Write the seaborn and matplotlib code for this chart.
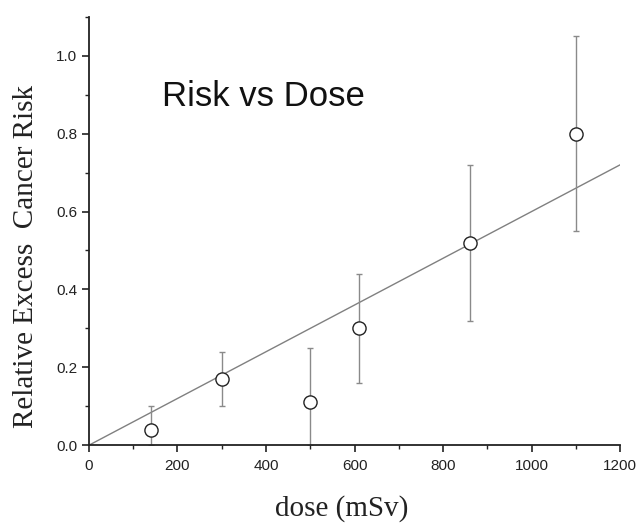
import numpy as np
import pandas as pd
import matplotlib
matplotlib.use("Agg")
import matplotlib.pyplot as plt
import seaborn as sns
from matplotlib.ticker import MultipleLocator

# datos
dose = [140, 300, 500, 610, 860, 1100]
risk = [0.04, 0.17, 0.11, 0.30, 0.52, 0.80]
err_low = [0.04, 0.07, 0.11, 0.14, 0.20, 0.25]
err_high = [0.06, 0.07, 0.14, 0.14, 0.20, 0.25]

# recta de ajuste
fit_dose = [0, 1200]
fit_risk = [0.0, 0.72]

sns.set_style("ticks")

fig = plt.figure(figsize=(6.4, 5.25), dpi=100)
ax = fig.add_axes([0.139, 0.152, 0.830, 0.816])

df = pd.DataFrame({"dose": dose, "risk": risk})
fit_df = pd.DataFrame({"dose": fit_dose, "risk": fit_risk})

sns.lineplot(data=fit_df, x="dose", y="risk", ax=ax, color="#808080", lw=1.0)
ax.errorbar(dose, risk, yerr=[err_low, err_high], fmt="none",
            ecolor="#8a8a8a", elinewidth=1.0, capsize=2.5, capthick=1.0, zorder=2)
sns.scatterplot(data=df, x="dose", y="risk", ax=ax, marker="o", s=90,
                facecolor="white", edgecolor="#222222", linewidth=1.0, zorder=3)

ax.set_xlim(0, 1200)
ax.set_ylim(0, 1.1)
ax.xaxis.set_major_locator(MultipleLocator(200))
ax.xaxis.set_minor_locator(MultipleLocator(100))
ax.yaxis.set_major_locator(MultipleLocator(0.2))
ax.yaxis.set_minor_locator(MultipleLocator(0.1))
ax.yaxis.set_major_formatter(matplotlib.ticker.FormatStrFormatter("%.1f"))

for s in ["top", "right"]:
    ax.spines[s].set_visible(False)
for s in ["left", "bottom"]:
    ax.spines[s].set_linewidth(1.3)
    ax.spines[s].set_color("#222222")

ax.tick_params(which="major", direction="out", length=5, width=1.2,
               labelsize=11, colors="#222222", labelfontfamily="Liberation Sans")
ax.tick_params(axis="x", which="major", pad=5)
ax.tick_params(which="minor", direction="out", length=3, width=1.0, colors="#222222")

ax.set_xlabel("dose (mSv)", fontsize=21, family="Liberation Serif", color="#222222")
ax.set_ylabel("Relative Excess  Cancer Risk", fontsize=21, family="Liberation Serif",
              color="#222222")
ax.xaxis.set_label_coords(0.476, -0.117)
ax.yaxis.set_label_coords(-0.094, 0.44)

ax.text(0.137, 0.813, "Risk vs Dose", transform=ax.transAxes, fontsize=25,
        family="Liberation Sans", va="center", ha="left", color="#111111")

plt.savefig("out.png", dpi=100)
